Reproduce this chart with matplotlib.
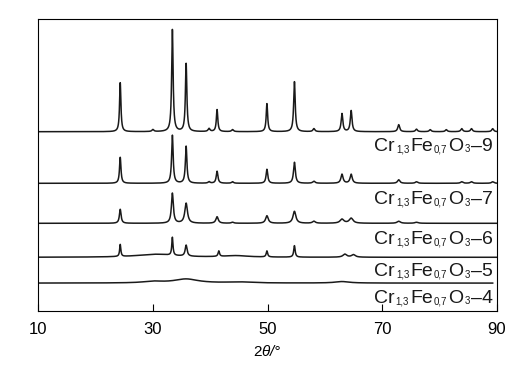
import numpy as np
import matplotlib.pyplot as plt
from matplotlib.transforms import offset_copy

plt.rcParams['font.family'] = ['Liberation Sans', 'DejaVu Sans']
plt.rcParams['mathtext.fontset'] = 'custom'
plt.rcParams['mathtext.rm'] = 'Liberation Sans'
plt.rcParams['mathtext.it'] = 'Liberation Sans:italic'

# peak tables: position (2theta), height, FWHM (deg)
# heights in axis pixel units above each trace's baseline
pos_9 = [24.3, 30.0, 33.4, 35.8, 39.8, 41.2, 43.9, 49.9, 54.7, 58.1, 63.0, 64.6, 72.9, 76.0, 78.4, 81.2, 83.9, 85.6, 89.3]
h_9 = [49, 2, 102, 68, 3, 22, 2, 28, 50, 3, 18, 21, 7, 2.5, 2, 2, 3, 3, 3]
w_9 = [0.28, 0.4, 0.3, 0.3, 0.4, 0.3, 0.4, 0.3, 0.32, 0.4, 0.35, 0.35, 0.4, 0.4, 0.4, 0.4, 0.4, 0.4, 0.4]

pos_7 = [24.3, 33.4, 35.8, 39.8, 41.2, 43.9, 49.9, 54.7, 58.1, 63.0, 64.6, 72.9, 76.0, 83.9, 85.6, 89.3]
h_7 = [26, 48, 37, 1.5, 12, 1.5, 14, 21, 2, 9, 9, 3.5, 1.5, 1.5, 1.5, 1.5]
w_7 = [0.3, 0.32, 0.32, 0.4, 0.35, 0.4, 0.35, 0.38, 0.5, 0.45, 0.45, 0.5, 0.5, 0.5, 0.5, 0.5]

pos_6 = [24.3, 33.4, 35.8, 41.2, 43.9, 49.9, 54.7, 58.1, 63.0, 64.6, 72.9, 76.0]
h_6 = [14, 30, 20, 6.5, 1, 7.5, 12, 2, 4, 5, 2, 1]
w_6 = [0.35, 0.4, 0.55, 0.5, 0.5, 0.55, 0.6, 0.6, 0.8, 0.8, 0.7, 0.7]

pos_5 = [24.3, 30.5, 33.4, 35.8, 41.5, 44.5, 49.9, 54.7, 63.5, 65.0]
h_5 = [12, 3, 18, 11, 5.5, 1.5, 6, 11.5, 3, 2.5]
w_5 = [0.25, 8.0, 0.25, 0.4, 0.3, 5.0, 0.3, 0.3, 0.8, 0.8]

pos_4 = [30.0, 35.8, 45.0, 63.0]
h_4 = [1.5, 4, 1, 1.5]
w_4 = [4.0, 5.0, 5.0, 3.0]

baselines = [179, 127.4, 87.4, 53.4, 27.6]
x_end = [90, 90, 90, 90, 89.3]
names = ['9', '7', '6', '5', '4']
label_y = [160, 106.7, 66.7, 34.7, 8]

tables = [(pos_9, h_9, w_9), (pos_7, h_7, w_7), (pos_6, h_6, w_6),
          (pos_5, h_5, w_5), (pos_4, h_4, w_4)]


def profile(x, pos, h, w):
    y = np.zeros_like(x)
    for p, a, f in zip(pos, h, w):
        y += a / (1 + ((x - p) / (f / 2)) ** 2)
    return y


fig = plt.figure(figsize=(5.27, 3.71), dpi=100)
ax = fig.add_axes([38.3 / 527, 1 - 310.7 / 371, 458.4 / 527, 291.7 / 371])
ax.set_xlim(10, 90)
ax.set_ylim(0, 291.7)
renderer = fig.canvas.get_renderer()


def formula_label(x_right, y_base, suffix, big=14, small=7, gap=1.0):
    pieces = [('Cr', big, 0), ('1,3', small, -1.5), ('Fe', big, 0),
              ('0,7', small, -1.5), ('O', big, 0), ('3', small, -1.5),
              ('\u2013' + suffix, big, 0)]
    texts, widths = [], []
    for s, size, dy in pieces:
        t = ax.text(x_right, y_base, s, fontsize=size, ha='left', va='baseline',
                    color='#1a1a1a')
        texts.append(t)
        widths.append(t.get_window_extent(renderer).width)
    total = sum(widths) + gap * (len(pieces) - 1)
    off = -total
    for t, w, (s, size, dy) in zip(texts, widths, pieces):
        t.set_transform(offset_copy(ax.transData, fig=fig, x=off, y=dy, units='dots'))
        off += w + gap


for (pos, h, w), base, xe, nm, ly in zip(tables, baselines, x_end, names, label_y):
    x = np.arange(10, xe + 0.001, 0.02)
    ax.plot(x, base + profile(x, pos, h, w), color='#1a1a1a', lw=1.1)
    formula_label(89.3, ly, nm)

ax.set_xticks([10, 30, 50, 70, 90])
ax.set_yticks([])
ax.tick_params(axis='x', direction='in', length=5, width=0.8, pad=8, labelsize=12)
for s in ax.spines.values():
    s.set_linewidth(0.8)
ax.set_xlabel(r'$2\theta$/°', fontsize=11, style='italic', labelpad=5)

fig.savefig('out.png', dpi=100)
